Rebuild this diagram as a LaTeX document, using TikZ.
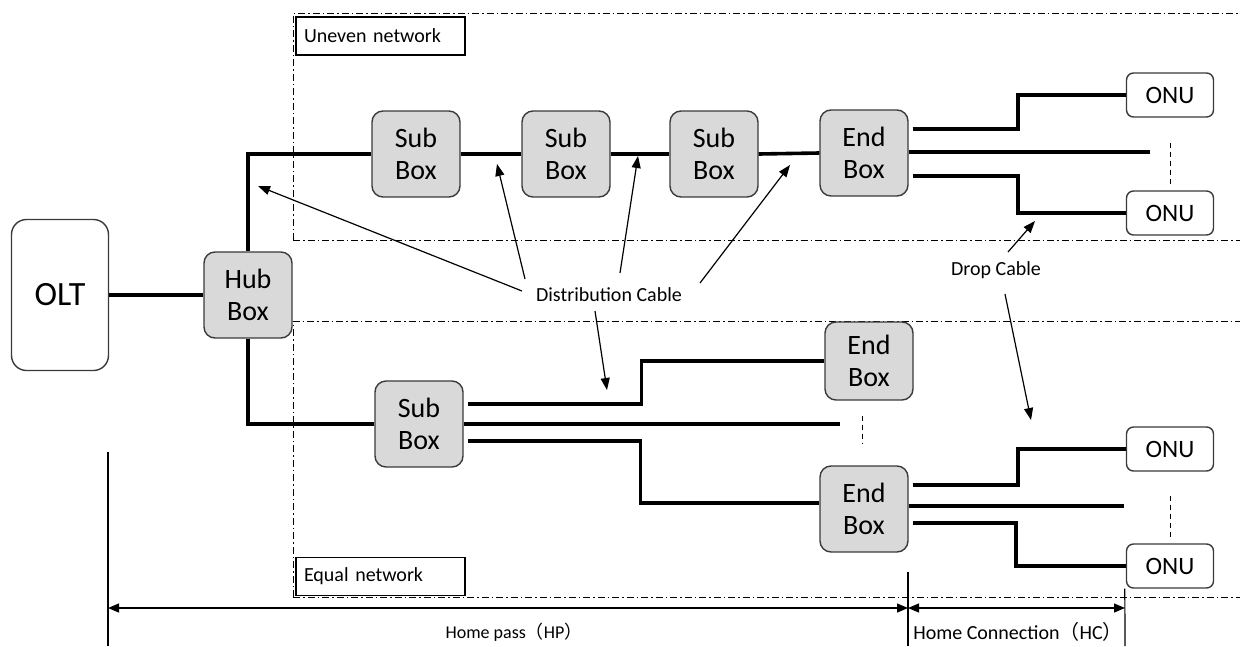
\documentclass[tikz,border=0pt]{standalone}
\usepackage{fontspec}
\setmainfont{Carlito}
\newfontfamily\cjk{Noto Sans CJK SC}
\usetikzlibrary{arrows.meta,calc}
\definecolor{boxgray}{HTML}{D9D9D9}
\definecolor{edgegray}{HTML}{3A3A3A}
\begin{document}
\begin{tikzpicture}[x=1pt,y=-1pt,
  box/.style={draw=edgegray, line width=1.4pt, rounded corners=11pt, fill=boxgray,
    minimum width=88pt, minimum height=86pt, align=center, inner sep=0pt,
    font=\fontsize{28}{32}\selectfont},
  onu/.style={draw=edgegray, line width=1.4pt, rounded corners=7pt, fill=white,
    minimum width=87pt, minimum height=44pt, inner sep=0pt,
    font=\fontsize{25}{28}\selectfont},
  legend/.style={draw=black, line width=1.3pt, fill=white, minimum width=169pt,
    minimum height=38pt, inner sep=0pt, text width=153pt, align=left,
    font=\fontsize{20}{23}\selectfont},
  lbl/.style={inner sep=1pt, font=\fontsize{20}{23}\selectfont},
  cable/.style={line width=3.6pt},
  region/.style={line width=1pt, dash pattern=on 7pt off 3pt on 1.5pt off 3pt},
  gap/.style={line width=1pt, dash pattern=on 5pt off 4pt},
  pointer/.style={line width=1.2pt, -{Triangle[length=12pt,width=9pt]}},
  measure/.style={line width=1.2pt, {Triangle[length=11pt,width=9pt]}-{Triangle[length=11pt,width=9pt]}},
  tick/.style={line width=1.2pt}
]
\useasboundingbox (0,0) rectangle (1240,646);

% regions
\draw[region] (293,240) -- (293,13) -- (1240,13);
\draw[region] (293,240) -- (1240,240);
\draw[region] (293,597) -- (293,321) -- (1240,321);
\draw[region] (293,597) -- (1240,597);
\node[legend] (uneven) at (380.5,36) {Uneven network};
\node[legend] (equal) at (380.5,576.5) {Equal network};

% nodes
\node[draw=edgegray, line width=1.4pt, rounded corners=15pt, fill=white,
  minimum width=97pt, minimum height=151pt, inner sep=0pt,
  font=\fontsize{34}{40}\selectfont] (olt) at (60,295) {OLT};
\node[box] (hub) at (248,295) {Hub\\Box};
\node[box] (s1) at (416,154) {Sub\\Box};
\node[box] (s2) at (566,154) {Sub\\Box};
\node[box] (s3) at (714,154) {Sub\\Box};
\node[box] (e1) at (864,153) {End\\Box};
\node[box] (ls) at (419,424) {Sub\\Box};
\node[box, minimum height=78pt] (e2) at (869,361) {End\\Box};
\node[box] (e3) at (864,509) {End\\Box};
\node[onu] (onu1) at (1170,95) {ONU};
\node[onu] (onu2) at (1170,213) {ONU};
\node[onu] (onu3) at (1170,449) {ONU};
\node[onu] (onu4) at (1170,566) {ONU};

% cables
\draw[cable] (olt) -- (hub);
\draw[cable] (hub.north) |- (s1.west);
\draw[cable] (hub.south) |- (ls.west);
\draw[cable] (s1) -- (s2);
\draw[cable] (s2) -- (s3);
\draw[cable] (s3.east) -- (e1.west);

\coordinate (m1) at (1150,152);
\draw[cable] ($(e1.east)+(4,-24)$) -| ($(onu1.west)+(-108,0)$) -- (onu1.west);
\draw[cable] ($(e1.east)+(0,-1)$) -- (m1);
\draw[cable] ($(e1.east)+(4,23)$) -| ($(onu2.west)+(-108,0)$) -- (onu2.west);

\coordinate (m2) at (840,424);
\draw[cable] ($(ls.east)+(4,-20)$) -| ($(e2.west)+(-183,0)$) -- (e2.west);
\draw[cable] (ls.east) -- (m2);
\draw[cable] ($(ls.east)+(4,17)$) -| ($(e3.west)+(-179,-6)$) -- ($(e3.west)+(0,-6)$);

\coordinate (m3) at (1124,506);
\draw[cable] ($(e3.east)+(4,-24)$) -| ($(onu3.west)+(-108,0)$) -- (onu3.west);
\draw[cable] ($(e3.east)+(0,-3)$) -- (m3);
\draw[cable] ($(e3.east)+(4,14)$) -| ($(onu4.west)+(-110,0)$) -- (onu4.west);

% omitted-item marks
\draw[gap] ($(onu1.south)+(0,25)$) -- ($(onu2.north)+(0,-4)$);
\draw[gap] ($(onu3.south)+(0,24)$) -- ($(onu4.north)+(0,-6)$);
\draw[gap] ($(e2.south)+(-7,15)$) -- ($(e3.north)+(-2,-21)$);

% labels and pointers
\node[lbl] (dc) at (609,295) {Distribution Cable};
\coordinate (p1) at (258,186);
\coordinate (p2) at (497,164);
\coordinate (p3) at (638,156);
\coordinate (p4) at (790,165);
\coordinate (p5) at (607,390);
\draw[pointer] (522,291) -- (p1);
\draw[pointer] (525,279) -- (p2);
\draw[pointer] (620,273) -- (p3);
\draw[pointer] (700,283) -- (p4);
\draw[pointer] (595,311) -- (p5);

\node[lbl] (drop) at (996,270) {Drop Cable};
\coordinate (q1) at (1035,221);
\coordinate (q2) at (1031,420);
\draw[pointer] (1008,252) -- (q1);
\draw[pointer] (1005,294) -- (q2);

% measurement
\coordinate (t1top) at (108,452);
\coordinate (t1bot) at (108,646);
\coordinate (t2top) at (908,572);
\coordinate (t2bot) at (908,646);
\coordinate (t3bot) at (1125,646);
\coordinate (hpL) at (108,608);
\coordinate (hpR) at (908,608);
\coordinate (hcR) at (1125,608);
\draw[tick] (t1top) -- (t1bot);
\draw[tick] (t2top) -- (t2bot);
\draw[tick] (onu4.south west) ++(-1,0) coordinate (t3top) -- (t3bot);
\draw[measure] (hpL) -- (hpR);
\draw[measure] (hpR) -- (hcR);
\node[inner sep=1pt, font=\fontsize{18}{21}\selectfont] (hp) at (514,632) {Home pass{\cjk （}HP{\cjk ）}};
\node[lbl] (hc) at (1018,632) {Home Connection{\cjk （}HC{\cjk ）}};
\end{tikzpicture}
\end{document}
